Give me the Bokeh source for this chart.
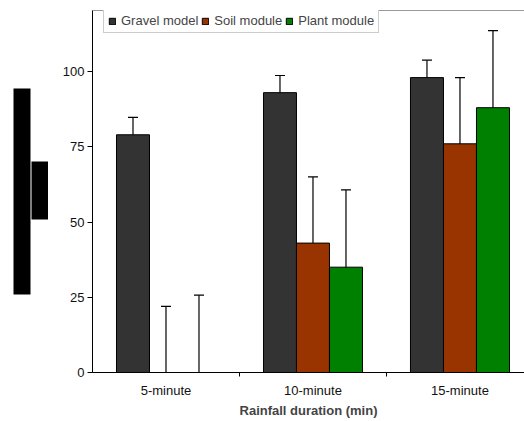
from bokeh.plotting import figure
from bokeh.layouts import row
from bokeh.models import (Range1d, FixedTicker, LinearAxis, Whisker, TeeHead,
                          ColumnDataSource, Legend, LegendItem)
from bokeh.embed import file_html
from bokeh.resources import INLINE

categories = ["5-minute", "10-minute", "15-minute"]
series = ["Gravel model", "Soil module", "Plant module"]
gravel = [79, 93, 98]
gravel_err = [5.8, 5.7, 5.8]
soil = [0, 43, 76]
soil_err = [22, 22, 22]
plant = [0, 35, 88]
plant_err = [25.7, 25.7, 25.6]
y_ticks = [0, 25, 50, 75, 100]

values = [gravel, soil, plant]
errors = [gravel_err, soil_err, plant_err]
colors = ["#333333", "#993300", "#008000"]
offsets = [-0.2245, 0.0, 0.2245]
bar_w = 0.2245
FONT = "Liberation Sans"

# left strip holding the redacted (blacked-out) y-axis title blocks
# (its frame is aligned with the main frame: pixel rows 10..372)
left = figure(width=48, height=421, output_backend="svg", toolbar_location=None,
              x_range=Range1d(0, 48), y_range=Range1d(372, 10),
              min_border=0, x_axis_type=None, y_axis_type=None)
left.outline_line_color = None
left.xgrid.visible = False
left.ygrid.visible = False
left.quad(left=[13, 31], right=[30, 48], top=[88, 161], bottom=[294, 219],
          fill_color="black", line_color=None)

p = figure(width=476, height=421, output_backend="svg", toolbar_location=None,
           x_range=Range1d(0, 2.939), y_range=Range1d(0, 120.3),
           min_border_left=44, min_border_right=0, min_border_top=10,
           min_border_bottom=49, x_axis_type=None, y_axis_type=None)
p.outline_line_color = None
p.xgrid.visible = False
p.ygrid.visible = False

# y axis
yax = LinearAxis(ticker=FixedTicker(ticks=y_ticks))
yax.axis_line_color = "black"
yax.major_tick_line_color = "black"
yax.major_tick_out = 5
yax.major_tick_in = 0
yax.minor_tick_line_color = None
yax.minor_tick_out = 0
yax.major_label_text_font = FONT
yax.major_label_text_font_size = "13px"
yax.major_label_text_color = "#111111"
yax.major_label_standoff = 3
p.add_layout(yax, "left")

# x axis
centers = [i + 0.5 for i in range(len(categories))]
xax = LinearAxis(ticker=FixedTicker(ticks=centers, minor_ticks=[1, 2]))
xax.major_label_overrides = {c: lab for c, lab in zip(centers, categories)}
xax.axis_line_color = "black"
xax.major_tick_line_color = None
xax.major_tick_out = 0
xax.major_tick_in = 0
xax.minor_tick_line_color = "black"
xax.minor_tick_out = 4
xax.minor_tick_in = 0
xax.major_label_text_font = FONT
xax.major_label_text_font_size = "13px"
xax.major_label_text_color = "#111111"
xax.major_label_standoff = 6
xax.axis_label = "Rainfall duration (min)"
xax.axis_label_text_font = FONT
xax.axis_label_text_font_style = "bold"
xax.axis_label_text_font_size = "13px"
xax.axis_label_standoff = 2
p.add_layout(xax, "below")

# top border line
tax = LinearAxis(ticker=FixedTicker(ticks=[]))
tax.axis_line_color = "#999999"
tax.major_tick_line_color = None
tax.minor_tick_line_color = None
tax.major_tick_out = 0
tax.minor_tick_out = 0
tax.major_label_text_font_size = "0px"
p.add_layout(tax, "above")

renderers = []
for k in range(3):
    xs = [c + offsets[k] for c in centers]
    src = ColumnDataSource(dict(x=xs, top=values[k]))
    r = p.vbar(x="x", top="top", width=bar_w, source=src,
               fill_color=colors[k], line_color="black", line_width=1)
    renderers.append(r)

for k in range(3):
    xs = [c + offsets[k] for c in centers]
    both = dict(x=[], up=[], lo=[])
    upper_only = dict(x=[], up=[], lo=[])
    for x, v, e in zip(xs, values[k], errors[k]):
        d = both if v - e >= 0 else upper_only
        d["x"].append(x)
        d["up"].append(v + e)
        d["lo"].append(max(v - e, 0))
    for d, has_lo in ((both, True), (upper_only, False)):
        if not d["x"]:
            continue
        w = Whisker(source=ColumnDataSource(d), base="x", upper="up", lower="lo",
                    line_color="black", line_width=1.2,
                    upper_head=TeeHead(size=10, line_color="black", line_width=1.2),
                    lower_head=TeeHead(size=10, line_color="black", line_width=1.2) if has_lo else None)
        p.add_layout(w)

legend = Legend(items=[LegendItem(label=s, renderers=[r]) for s, r in zip(series, renderers)],
                orientation="horizontal", location=(11, 339), margin=0,
                padding=4, spacing=3, glyph_width=8, glyph_height=8,
                label_standoff=5, label_text_font=FONT, label_text_font_size="13px",
                label_height=13, label_width=10, border_line_color="#999999", border_line_width=1,
                background_fill_color="white", background_fill_alpha=1)
p.add_layout(legend)

open("out.html", "w").write(file_html(row(left, p), INLINE))
